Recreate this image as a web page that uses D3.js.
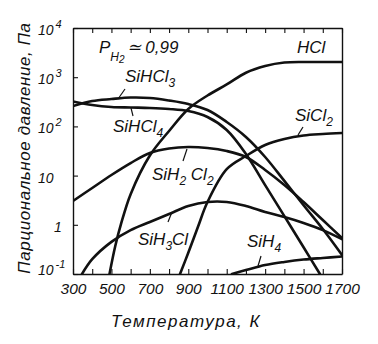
<!DOCTYPE html>
<html><head><meta charset="utf-8">
<script src="https://cdn.jsdelivr.net/npm/d3@7"></script>
<style>
html,body{margin:0;padding:0;background:#fff;}
svg{display:block;}
text{font-family:"Liberation Sans",Arial,sans-serif;font-style:italic;fill:#111;}
</style></head><body>
<svg id="c" width="378" height="344"></svg>
<script>
// ---- tick data ----
const xTickValues = [300,400,500,600,700,800,900,1000,1100,1200,1300,1400,1500,1600,1700];
const xTickLabels = ["300","","500","","700","","900","","1100","","1300","","1500","","1700"];
const yTickValues = [0.1,1,10,100,1000,10000];
const yTickBase = ["10","1","10","10","10","10"];
const yTickExp  = ["-1","","","2","3","4"];

// ---- series data (temperature K, partial pressure Pa) ----
const hclT = [490,520,550,600,700,800,900,1000,1100,1200,1300,1400,1500,1600,1700];
const hclP = [0.1,0.37,1.04,4.2,25.6,80.7,226,425,711,1234,1690,1990,2040,2040,2040];

const sihcl3T = [300,400,500,600,700,800,900,1000,1100,1200,1300,1400,1500,1600,1700];
const sihcl3P = [260,328,360,386,378,336,285,215,123,61,23.9,7.8,2.5,0.82,0.243];

const sihcl4T = [300,400,500,600,700,800,900,1000,1100,1200,1300,1400,1500,1585];
const sihcl4P = [321,272,248,242,237,226,205,155,84.5,27.5,6.4,1.5,0.35,0.1];

const sih2cl2T = [300,400,500,600,700,800,900,1000,1100,1200,1300,1400,1500,1600,1700];
const sih2cl2P = [3.05,5.6,10.3,18.0,28.8,35.5,38.1,36.4,31.6,23.9,13.0,6.44,2.9,1.25,0.54];

const sicl2T = [857,900,950,1000,1100,1200,1300,1400,1500,1600,1700];
const sicl2P = [0.1,0.27,0.9,2.9,13.5,25,41.9,55.5,65.3,70,73.4];

const sih3clT = [347,400,500,600,700,800,900,1000,1100,1200,1300,1400,1500,1600,1700];
const sih3clP = [0.1,0.2,0.45,0.78,1.14,1.66,2.41,2.91,2.91,2.41,1.82,1.44,1.09,0.78,0.51];

const sih4T = [1127,1200,1300,1400,1500,1600,1700];
const sih4P = [0.1,0.12,0.152,0.176,0.197,0.212,0.227];

const seriesList = [
  {t:hclT, p:hclP}, {t:sihcl3T, p:sihcl3P}, {t:sihcl4T, p:sihcl4P},
  {t:sih2cl2T, p:sih2cl2P}, {t:sicl2T, p:sicl2P}, {t:sih3clT, p:sih3clP}, {t:sih4T, p:sih4P}
];

// ---- layout ----
const svg = d3.select("#c");
const x = d3.scaleLinear().domain([300,1700]).range([73,342]);
const y = d3.scaleLog().domain([0.1,10000]).range([274,28]);

svg.append("defs").append("clipPath").attr("id","pa")
  .append("rect").attr("x",73).attr("y",28).attr("width",269).attr("height",246);

// curves
const line = d3.line().x(d=>x(d[0])).y(d=>y(d[1])).curve(d3.curveCatmullRom.alpha(0.5));
svg.append("g").attr("clip-path","url(#pa)")
  .selectAll("path").data(seriesList).join("path")
  .attr("d", s => line(s.t.map((t,i)=>[t,s.p[i]])))
  .attr("fill","none").attr("stroke","#111").attr("stroke-width",2.6)
  .attr("stroke-linecap","round").attr("stroke-linejoin","round");

// axes
function styleAxis(g){
  g.select(".domain").attr("stroke","#111").attr("stroke-width",1.4);
  g.selectAll(".tick line").attr("stroke","#111").attr("stroke-width",1.1);
  g.attr("font-family",null).attr("font-size",null);
}
svg.append("g").attr("transform","translate(0,274)")
  .call(d3.axisBottom(x).tickValues(xTickValues).tickSizeInner(-5).tickSizeOuter(0)
    .tickPadding(9).tickFormat((d,i)=>xTickLabels[i]))
  .call(styleAxis)
  .selectAll("text").attr("font-size",15.5).attr("fill","#111");
svg.append("g").attr("transform","translate(0,28)")
  .call(d3.axisTop(x).tickValues(xTickValues).tickSizeInner(-5).tickSizeOuter(0).tickFormat(""))
  .call(styleAxis);
svg.append("g").attr("transform","translate(73,0)")
  .call(d3.axisLeft(y).tickValues(yTickValues).tickSizeInner(-5).tickSizeOuter(0).tickFormat(""))
  .call(styleAxis);
svg.append("g").attr("transform","translate(342,0)")
  .call(d3.axisRight(y).tickValues([]).tickSizeOuter(0))
  .call(styleAxis);

// y tick labels with exponents
const yl = svg.append("g").attr("font-size",14);
yTickValues.forEach((v,i)=>{
  const base = yTickBase[i];
  const t = yl.append("text")
    .attr("x", base==="1" ? 54 : 38)
    .attr("y", y(v) + (v===0.1 ? 1 : 7));
  t.append("tspan").text(base);
  if (yTickExp[i]) t.append("tspan").attr("font-size",11).attr("dx",2).attr("dy",-7).text(yTickExp[i]);
});

// axis titles
svg.append("text").attr("x",186).attr("y",327).attr("text-anchor","middle")
  .attr("font-size",17).attr("letter-spacing",1.5).text("Температура, К");
svg.append("text").attr("transform","translate(30,148) rotate(-90)").attr("text-anchor","middle")
  .attr("font-size",17).attr("letter-spacing",0.6).text("Парциональное давление, Па");

// labels
function label(xp, yp, parts){
  const t = svg.append("text").attr("x",xp).attr("y",yp).attr("font-size",17);
  parts.forEach(([s,sub])=>{
    const ts = t.append("tspan").text(s);
    if (sub===1) ts.attr("font-size",12).attr("dy",5);
    if (sub===-1) ts.attr("dy",-5);
  });
  return t;
}
label(297,53,[["HCl",0]]);
label(125,82,[["SiHCl",0],["3",1]]);
label(113,132,[["SiHCl",0],["4",1]]);
label(152,180,[["SiH",0],["2",1],[" Cl",-1],["2",1]]);
label(295,121,[["SiCl",0],["2",1]]);
label(138,245,[["SiH",0],["3",1],["Cl",-1]]);
label(247,247,[["SiH",0],["4",1]]);
// P_H2 ≈ 0,99
const pt = svg.append("text").attr("x",99).attr("y",53).attr("font-size",17);
pt.append("tspan").text("P");
pt.append("tspan").attr("font-size",12).attr("dy",8).text("H");
pt.append("tspan").attr("font-size",10).attr("dy",2).text("2");
pt.append("tspan").attr("dy",-10).attr("dx",2).text("≃ 0,99");

// leader strokes (from label to its curve)
const leaders = [
  [[125,89],[118,99]],
  [[133,116],[131,108]],
  [[183,161],[187,149]],
  [[303,127],[298,135]],
  [[168,222],[172,212]],
  [[261,256],[258,266]]
];
svg.append("g").selectAll("line").data(leaders).join("line")
  .attr("x1",d=>d[0][0]).attr("y1",d=>d[0][1]).attr("x2",d=>d[1][0]).attr("y2",d=>d[1][1])
  .attr("stroke","#111").attr("stroke-width",1.2);
</script>
</body></html>
